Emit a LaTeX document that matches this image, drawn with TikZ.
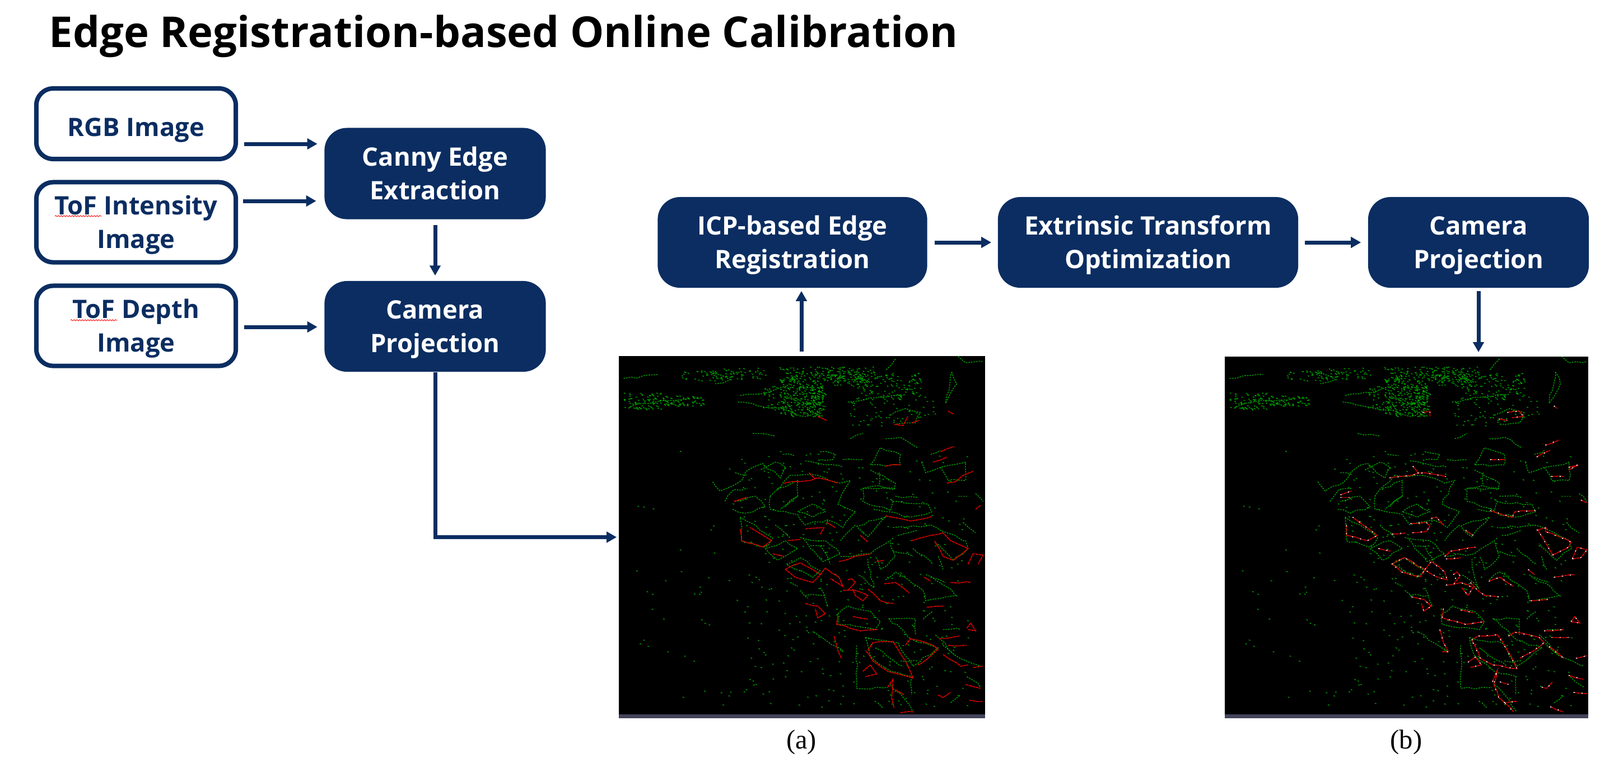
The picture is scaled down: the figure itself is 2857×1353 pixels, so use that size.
\documentclass[tikz,border=0pt]{standalone}
\usepackage{fontspec}
\setmainfont{Open Sans}
\newfontfamily\capfont{Liberation Serif}
\usetikzlibrary{arrows.meta,decorations.pathmorphing}
\definecolor{navy}{HTML}{0B2D61}
\definecolor{scangreen}{RGB}{0,160,0}
\definecolor{scanred}{RGB}{225,0,0}
\definecolor{barslate}{HTML}{43445A}
\tikzset{boxtext/.style={align=center, font=\fontsize{12.9}{17}\selectfont\bfseries},
	oneline/.style={text height=12.6pt, text depth=0pt},
	twoline/.style={text height=26.4pt, text depth=0pt},
	inbox/.style={boxtext, draw=navy, line width=0.08cm, fill=white, rounded corners=0.3cm, text=navy, minimum width=3.56cm},
	procbox/.style={boxtext, twoline, fill=navy, rounded corners=0.4cm, text=white},
	flow/.style={draw=navy, line width=0.07cm, -{Triangle[length=0.18cm,width=0.19cm]}},
	panel/.style={fill=black, inner sep=0pt},
	panelbar/.style={fill=barslate, inner sep=0pt},
	caption/.style={font=\capfont\fontsize{13.8}{16}\selectfont},
	spell/.style={draw=red, line width=0.25pt, decorate, decoration={snake,amplitude=0.3pt,segment length=1.4pt}},
	greenedge/.style={draw=scangreen, line width=0.4pt, dash pattern=on 0.8pt off 0.5pt, decorate, decoration={random steps,segment length=3.5pt,amplitude=0.7pt}},
	rededge/.style={draw=scanred, line width=0.45pt, dash pattern=on 1.5pt off 0.25pt, decorate, decoration={random steps,segment length=4pt,amplitude=0.4pt}},
	whiteedge/.style={draw=white!85!gray, line width=0.45pt, dash pattern=on 0.6pt off 3.5pt}}
\newcommand{\trace}[2]{\draw[#1] plot[sharp plot] coordinates {#2};}
\newcommand{\tracelist}[2]{\def\tracestyle{#1}\tracenext#2\tracestop}
\def\tracestop{\tracestop}
\def\tracenext#1{\ifx#1\tracestop\else\trace{\tracestyle}{#1}\expandafter\tracenext\fi}
% green edges, same for both panels
\newcommand{\greentraces}{
	\tracelist{greenedge}{
		{(75,120)(210,105)}{(110,225)(220,205)(340,195)}{(430,100)(500,125)(440,140)}
		{(540,185)(640,175)(720,150)}{(870,240)(800,265)(720,240)(640,230)(530,210)}
		{(970,210)(1100,190)(1200,180)}
		{(1140,260)(1200,235)(1260,250)(1240,290)(1160,295)}{(1160,45)(1120,90)}
		{(1385,95)(1405,140)(1360,215)(1385,95)}{(1410,35)(1440,60)(1510,55)}
		{(980,350)(1030,330)}{(590,330)(680,340)}{(1120,350)(1180,345)(1250,385)}
		{(430,515)(460,550)(530,520)(580,465)(630,445)(700,500)(720,460)(680,440)(620,470)}
		{(480,590)(515,545)(570,540)}{(510,620)(560,635)(640,610)(600,570)(520,590)}
		{(660,570)(740,490)(850,490)(940,520)(980,510)(960,540)(930,600)(1000,630)(950,690)(890,660)(800,680)(770,640)(660,620)(660,570)}
		{(770,630)(830,600)(880,630)(830,650)(770,630)}{(690,540)(770,510)(770,570)(700,620)}
		{(800,435)(880,450)(950,460)}{(860,400)(920,410)(910,430)(860,430)}{(710,410)(755,415)}{(950,430)(1030,430)}
		{(1060,450)(1100,385)(1180,410)(1180,450)(1120,455)(1060,450)}
		{(1060,470)(1160,520)(1155,545)(1090,530)(1030,540)(1030,590)(1140,625)(1150,590)}
		{(1150,590)(1290,600)(1305,630)(1220,650)(1070,620)}{(1005,685)(1120,650)(1090,680)(1050,725)(1005,685)}
		{(1150,690)(1300,680)(1440,740)(1450,770)(1390,815)(1320,750)}
		{(540,650)(600,680)(670,730)(640,765)(545,740)(540,650)}{(640,770)(690,815)(770,770)(720,740)(640,770)}
		{(725,830)(780,805)(860,855)(830,880)(725,830)}{(790,730)(880,740)(940,790)(870,820)(820,770)(790,730)}
		{(940,800)(1060,790)(1140,740)(1160,800)(1100,850)(1080,800)}{(1050,810)(1060,880)(1075,920)(1010,870)}
		{(1120,890)(1160,860)(1270,930)(1280,970)(1400,950)(1370,920)(1280,870)}
		{(930,1020)(970,990)(1060,1010)(1100,1050)(1080,1080)(930,1060)(930,1020)}{(835,1090)(950,1160)}
		{(1005,1140)(1005,1305)(1130,1300)}{(1040,1110)(1170,1130)(1230,1220)(1330,1150)(1230,1120)(1135,1040)(1240,1040)(1240,1100)}
		{(1040,1110)(1060,1180)(1140,1240)(1230,1260)}{(1265,440)(1280,480)(1340,460)(1440,440)(1440,510)(1370,510)(1340,460)}
		{(1320,1100)(1400,1180)(1500,1220)}{(1430,670)(1480,710)}{(1350,1080)(1420,1080)}{(1445,1260)(1500,1300)}
		{(1380,1360)(1420,1330)}{(1090,1360)(1110,1380)}{(1140,1290)(1200,1350)(1230,1395)}
		{(1030,540)(1160,540)}{(1095,480)(1095,530)}{(1160,570)(1250,575)}{(1300,410)(1340,395)}{(520,480)(570,490)}
		{(720,610)(770,570)}{(680,680)(740,730)}{(860,760)(900,830)}{(820,760)(880,760)}{(1000,680)(940,740)}
		{(1170,720)(1250,700)}{(1150,780)(1230,800)}{(1230,770)(1310,830)}{(1330,800)(1350,850)}{(780,930)(810,960)}
		{(860,920)(890,990)}{(740,900)(770,915)}{(800,950)(880,950)}{(1300,880)(1360,900)}{(1180,1200)(1250,1200)}
		{(1080,1150)(1190,1220)}{(1270,1040)(1310,1010)}{(1350,1140)(1400,1180)}{(1225,1260)(1225,1330)}
		{(1480,560)(1510,590)}{(1410,570)(1450,570)}
	}
	% dots: dense patch, top strip, left band, right band, lower left, scales
	\pgfmathsetseed{4711}
	\foreach \n/\xa/\xb/\ya/\yb in {220/700/870/120/265, 120/630/880/150/240, 130/690/1030/75/130, 60/400/650/80/125, 25/300/450/90/130, 80/75/230/175/240, 70/230/395/185/225, 80/880/1080/75/150, 130/1000/1260/100/200, 60/970/1320/190/300, 80/100/950/380/1385, 320/540/1450/400/1380}{
		\foreach \i in {1,...,\n}{
			\pgfmathsetmacro{\px}{\xa+rnd*(\xb-\xa)}
			\pgfmathsetmacro{\py}{\ya+rnd*(\yb-\ya)}
			\draw[draw=scangreen, line width=0.4pt] (\px,\py) -- ++(6,2);
		}
	}
}
% red edges of the left panel
\newcommand{\redtracesa}{
	\tracelist{rededge}{
		{(850,265)(885,280)}{(1155,295)(1190,300)(1210,265)}{(1225,290)(1255,280)}{(1370,245)(1390,255)}{(1340,400)(1395,380)}{(1310,440)(1365,420)}
		{(715,520)(820,510)(850,500)(930,520)}{(815,480)(840,505)}{(515,590)(565,575)}{(1120,455)(1180,450)}{(1365,520)(1400,515)(1430,490)(1470,475)}
		{(1120,645)(1220,665)(1305,648)}{(540,695)(545,740)(630,765)(665,740)(580,690)}{(730,740)(780,735)}{(800,695)(875,690)(860,715)}{(885,670)(920,690)}
		{(670,790)(715,800)}{(1020,720)(1050,745)}{(935,820)(1000,800)(1060,790)}{(1085,820)(1115,815)}
		{(1225,740)(1300,720)(1350,710)(1380,740)(1450,770)(1390,815)(1350,800)(1315,740)}{(1450,830)(1470,790)(1510,795)(1490,830)}
		{(720,850)(780,825)(860,870)(830,900)(760,880)(720,850)}{(860,870)(880,845)(935,880)(950,915)(900,885)}{(970,890)(985,885)(1000,900)(985,915)(970,900)}
		{(950,930)(1000,930)(1050,950)(1030,970)(1000,950)(990,925)}{(1050,925)(1100,970)(1155,980)}
		{(1115,905)(1160,900)(1215,940)}{(1275,880)(1300,895)}{(1380,900)(1460,900)}{(1285,995)(1355,990)}
		{(800,980)(850,990)(880,1020)(850,1035)(840,1000)}{(930,1030)(925,1060)(1020,1085)(1090,1080)}{(990,1030)(1050,1040)}
		{(915,1105)(930,1160)(945,1190)}{(1050,1160)(1070,1130)(1150,1125)(1200,1200)(1230,1265)(1130,1240)(1070,1200)(1040,1160)}
		{(1030,1240)(1060,1215)(1085,1250)(1040,1260)}{(1200,1140)(1220,1115)(1310,1140)(1330,1155)(1290,1190)(1250,1215)}
		{(1335,1115)(1415,1105)}{(1370,1140)(1445,1140)}{(1350,1175)(1420,1220)(1450,1215)}{(1470,1225)(1510,1220)}
		{(1130,1300)(1150,1270)(1145,1340)(1155,1380)}{(1160,1310)(1195,1330)}{(1180,1398)(1235,1395)}
		{(1330,1330)(1350,1340)(1380,1320)}{(1440,1290)(1500,1305)}{(1455,1350)(1510,1355)}{(1445,1075)(1460,1055)(1480,1085)(1450,1080)}{(1500,605)(1480,620)}
	}
}
% red edges of the right panel, style as argument
\newcommand{\redtracesb}[1]{
	\tracelist{#1}{
		{(845,250)(875,245)(875,265)}{(1190,250)(1240,245)(1255,265)(1210,270)}{(1155,275)(1190,280)}{(1380,225)(1395,235)}
		{(1345,375)(1400,355)}{(1310,420)(1365,395)}{(1120,430)(1180,430)}{(1440,460)(1480,450)(1440,470)}{(1370,495)(1420,495)}
		{(710,500)(800,490)(850,480)(940,495)}{(805,455)(830,485)}{(510,565)(555,550)}{(510,575)(555,575)}
		{(1120,625)(1210,650)(1220,630)(1305,625)}{(535,680)(535,720)(620,740)(660,720)(560,650)}
		{(720,715)(775,710)}{(795,675)(860,670)(875,685)(860,705)(800,710)}{(880,655)(900,650)(930,680)}
		{(665,770)(715,780)}{(1020,700)(1050,720)}{(935,800)(960,780)(1060,765)}{(940,810)(1000,805)}
		{(1310,700)(1350,690)(1345,705)(1450,745)(1440,765)(1375,795)(1315,700)}{(1455,810)(1475,765)(1515,775)(1490,805)(1455,810)}
		{(720,830)(770,805)(855,850)(835,878)(760,860)(720,830)}{(855,850)(880,820)(935,860)(945,890)(905,880)(860,855)}
		{(970,870)(985,860)(998,875)(985,890)(970,875)}{(940,910)(1000,900)(1050,920)(1030,950)(1005,920)}{(1040,900)(1075,935)(1100,950)(1155,955)}
		{(1115,895)(1160,880)(1215,915)}{(1275,850)(1300,870)}{(1380,880)(1465,870)}{(1285,970)(1355,965)}
		{(800,955)(850,965)(880,990)(850,1010)(840,980)}{(930,1000)(925,1035)(1020,1060)(1095,1050)}{(1000,1005)(1050,1015)}
		{(915,1080)(930,1130)(950,1165)(925,1165)}{(1045,1120)(1070,1105)(1150,1100)(1190,1160)(1230,1230)(1130,1215)(1080,1190)(1045,1120)}
		{(1030,1205)(1060,1185)(1085,1215)(1040,1225)}{(1195,1105)(1220,1090)(1320,1110)(1340,1130)(1290,1165)(1240,1190)}
		{(1340,1085)(1420,1080)}{(1370,1110)(1445,1110)}{(1360,1145)(1420,1190)}{(1470,1190)(1515,1180)}
		{(1130,1280)(1150,1235)(1135,1290)(1155,1340)(1180,1360)(1230,1355)}{(1160,1280)(1195,1290)}{(1180,1360)(1215,1395)}
		{(1330,1300)(1350,1305)(1375,1280)}{(1440,1255)(1500,1270)}{(1460,1320)(1515,1325)}{(1450,1050)(1465,1030)(1485,1055)(1450,1050)}{(1365,1375)(1420,1395)}{(1490,585)(1515,595)}
	}
}

\begin{document}
\begin{tikzpicture}[x=0.01cm, y=-0.01cm]
		\useasboundingbox (0,0) rectangle (2857,1353);
		\node[anchor=base west, inner sep=0pt, font=\fontsize{21.6}{26}\selectfont\bfseries] (title) at (87,84) {Edge Registration-based Online Calibration};
		% inputs
		\node[inbox, oneline, minimum height=1.26cm] (rgb) at (243,221) {RGB Image};
		\node[inbox, twoline, minimum height=1.43cm] (tofint) at (243,397) {ToF Intensity\\Image};
		\node[inbox, twoline, minimum height=1.43cm] (tofdepth) at (243,582) {ToF Depth\\Image};
		\draw[spell] (98,386) -- (182,386);
		\draw[spell] (126,572) -- (210,572);
		% processing
		\node[procbox, minimum width=3.95cm, minimum height=1.63cm] (canny) at (777,310) {Canny Edge\\Extraction};
		\node[procbox, minimum width=3.95cm, minimum height=1.62cm] (camproj) at (777,583) {Camera\\Projection};
		\node[procbox, minimum width=4.81cm, minimum height=1.62cm] (icp) at (1415,433) {ICP-based Edge\\Registration};
		\node[procbox, minimum width=5.36cm, minimum height=1.62cm] (extrinsic) at (2050,433) {Extrinsic Transform\\Optimization};
		\node[procbox, minimum width=3.94cm, minimum height=1.62cm] (camproj2) at (2640,433) {Camera\\Projection};
		% scans
		\node[panel, minimum width=6.54cm, minimum height=6.47cm] (scana) at (1432,959.5) {};
		\node[panel, minimum width=6.49cm, minimum height=6.45cm] (scanb) at (2511.5,959.5) {};
		\node[panelbar, minimum width=6.54cm, minimum height=0.07cm] (bara) at (1432,1279.5) {};
		\node[panelbar, minimum width=6.49cm, minimum height=0.07cm] (barb) at (2511.5,1279.5) {};
		\begin{scope}
		\clip (1105,636) rectangle (1759,1276);
		\begin{scope}[shift={(1080,620)}, x=0.004464cm, y=-0.004675cm]
		\greentraces
		\redtracesa
		\end{scope}
		\end{scope}
		\begin{scope}
		\clip (2187,637) rectangle (2836,1276);
		\begin{scope}[shift={(2162,620)}, x=0.004433cm, y=-0.004675cm]
		\greentraces
		\end{scope}
		\begin{scope}[shift={(2170,620)}, x=0.004382cm, y=-0.004675cm]
		\redtracesb{rededge}
		\redtracesb{whiteedge}
		\end{scope}
		\end{scope}
		\node[caption] (capa) at (1431,1326) {(a)};
		\node[caption] (capb) at (2511,1326) {(b)};
		% connectors
		\draw[flow] ([shift={(11,36)}]rgb.east) -- ([shift={(-12,-53)}]canny.west);
		\draw[flow] ([shift={(9,-38)}]tofint.east) -- ([shift={(-14,49)}]canny.west);
		\draw[flow] ([shift={(11,2)}]tofdepth.east) -- ([shift={(-12,1)}]camproj.west);
		\draw[flow] ([yshift=-0.1cm]canny.south) -- ([yshift=0.09cm]camproj.north);
		\draw[flow] (camproj.south) |- ([shift={(-3,0)}]scana.west);
		\draw[flow] ([shift={(-1,-7)}]scana.north) -- ([shift={(16,5)}]icp.south);
		\draw[flow] ([xshift=0.13cm]icp.east) -- ([xshift=-0.11cm]extrinsic.west);
		\draw[flow] ([xshift=0.11cm]extrinsic.east) -- ([xshift=-0.12cm]camproj2.west);
		\draw[flow] ([yshift=-0.05cm]camproj2.south) -- ([shift={(128.5,-7)}]scanb.north);
		\end{tikzpicture}
\end{document}
